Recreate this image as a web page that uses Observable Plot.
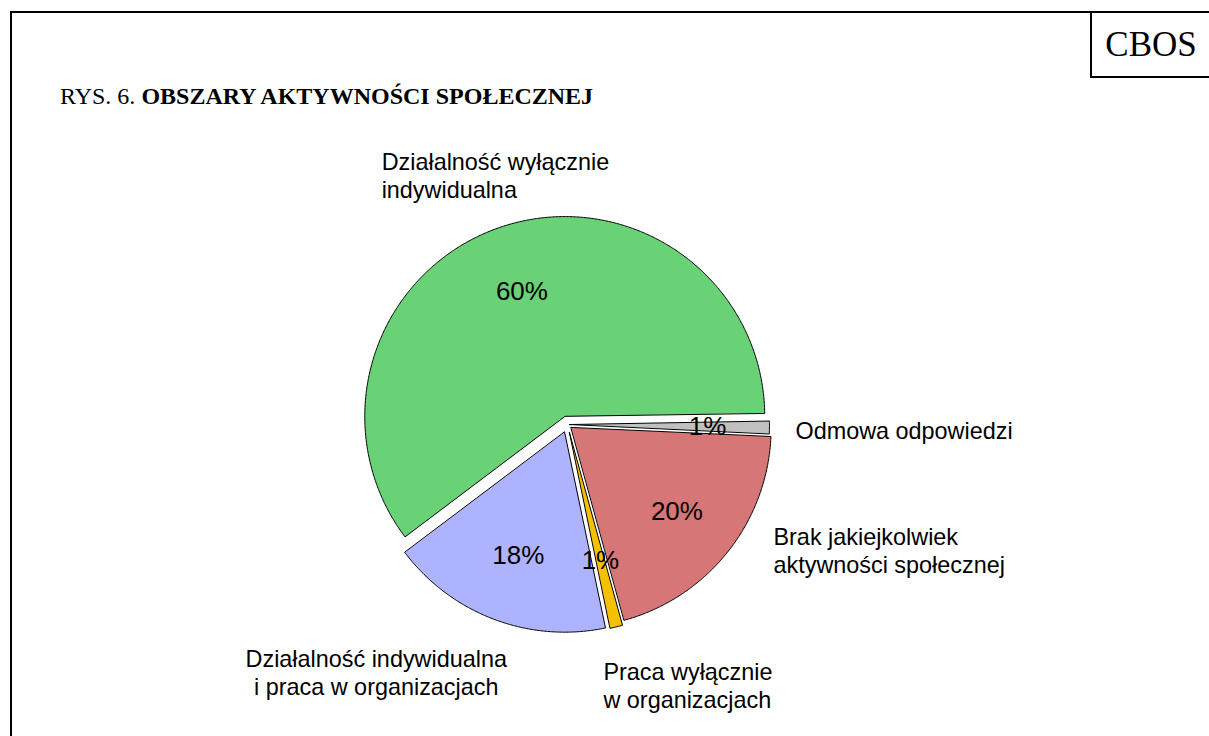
<!DOCTYPE html>
<html><head><meta charset="utf-8">
<script src="https://cdn.jsdelivr.net/npm/d3@7"></script>
<script src="https://cdn.jsdelivr.net/npm/@observablehq/plot@0.6"></script>
<style>
body{margin:0;background:#fff;width:1209px;height:736px;overflow:hidden;position:relative;}
#chart{position:absolute;left:0;top:0;z-index:0}
#frame{position:absolute;left:10px;top:11px;width:1300px;height:800px;border:2px solid #000;box-sizing:border-box;z-index:1}
#cbosbox{position:absolute;left:1090px;top:11px;width:200px;height:67px;border:2px solid #000;box-sizing:border-box;z-index:1}
#cbos{position:absolute;left:1090px;top:27px;width:122px;text-align:center;font:35px/1 "Liberation Serif","Times New Roman",serif;z-index:2}
#title{position:absolute;left:60px;top:84px;font:24px/1 "Liberation Serif","Times New Roman",serif;white-space:nowrap;z-index:2}
</style></head><body>
<div id="chart"></div>
<div id="frame"></div>
<div id="cbosbox"></div>
<div id="cbos">CBOS</div>
<div id="title">RYS. 6. <b>OBSZARY AKTYWNOŚCI SPOŁECZNEJ</b></div>
<script>
// ---- data ----
const categories = [
  "Działalność wyłącznie indywidualna",
  "Odmowa odpowiedzi",
  "Brak jakiejkolwiek aktywności społecznej",
  "Praca wyłącznie w organizacjach",
  "Działalność indywidualna i praca w organizacjach"
];
const categoryLines = [
  "Działalność wyłącznie\nindywidualna",
  "Odmowa odpowiedzi",
  "Brak jakiejkolwiek\naktywności społecznej",
  "Praca wyłącznie\nw organizacjach",
  "Działalność indywidualna\ni praca w organizacjach"
];
const values = [60, 1, 20, 1, 18];
const percentLabels = ["60%", "1%", "20%", "1%", "18%"];

// ---- style / layout ----
const colors = ["#69d176", "#c0c0c0", "#d67676", "#f5c000", "#aeb3ff"];
const explode = [0.042, 0.01, 0.0235, 0.041, 0.041];
const labelStyle = [
  {dx: -118, dy: -77, anchor: "start", lh: 1.2},
  {dx: 26, dy: -5, anchor: "start", lh: 1},
  {dx: 46, dy: -27, anchor: "start", lh: 1.2},
  {dx: -13, dy: 33, anchor: "start", lh: 1.2},
  {dx: -118, dy: 28, anchor: "middle", lh: 1.2}
];
const W = 1209, H = 736, R = 200, cx = 567, cy = 424;
const startDeg = 233;

const a0 = startDeg * Math.PI / 180;
const arcs = d3.pie().sort(null).value(d => d).startAngle(a0).endAngle(a0 + 2 * Math.PI)(values);

const slices = arcs.map((p, i) => {
  const mid = (p.startAngle + p.endAngle) / 2;
  const ox = explode[i] * Math.sin(mid), oy = explode[i] * Math.cos(mid);
  const pts = [{x: ox, y: oy}];
  const n = Math.max(4, Math.ceil((p.endAngle - p.startAngle) / (0.4 * Math.PI / 180)));
  for (let j = 0; j <= n; j++) {
    const a = p.startAngle + (p.endAngle - p.startAngle) * j / n;
    pts.push({x: ox + Math.sin(a), y: oy + Math.cos(a)});
  }
  return {
    i, category: categories[i], lines: categoryLines[i], pct: percentLabels[i], color: colors[i], pts,
    px: 0.70 * Math.sin(mid), py: 0.70 * Math.cos(mid),
    ex: ox + Math.sin(mid), ey: oy + Math.cos(mid)
  };
});

const fontSans = "Liberation Sans, Arial, sans-serif";
const marks = [];
slices.forEach(s => {
  marks.push(Plot.line(s.pts, {x: "x", y: "y", fill: s.color, stroke: "#000", strokeWidth: 1, curve: "linear-closed"}));
});
marks.push(Plot.text(slices, {x: "px", y: "py", text: "pct", fontSize: 26, fontFamily: fontSans, fill: "#000"}));
slices.forEach((s, i) => {
  const st = labelStyle[i];
  marks.push(Plot.text([s], {x: "ex", y: "ey", text: "lines", dx: st.dx, dy: st.dy, textAnchor: st.anchor,
    lineAnchor: "top", lineHeight: st.lh, fontSize: 23.4, fontFamily: fontSans, fill: "#000"}));
});

const chart = Plot.plot({
  width: W, height: H, margin: 0,
  style: {background: "transparent"},
  x: {domain: [-cx / R, (W - cx) / R], axis: null},
  y: {domain: [(cy - H) / R, cy / R], axis: null},
  marks
});
document.getElementById("chart").appendChild(chart);
</script>
</body></html>
